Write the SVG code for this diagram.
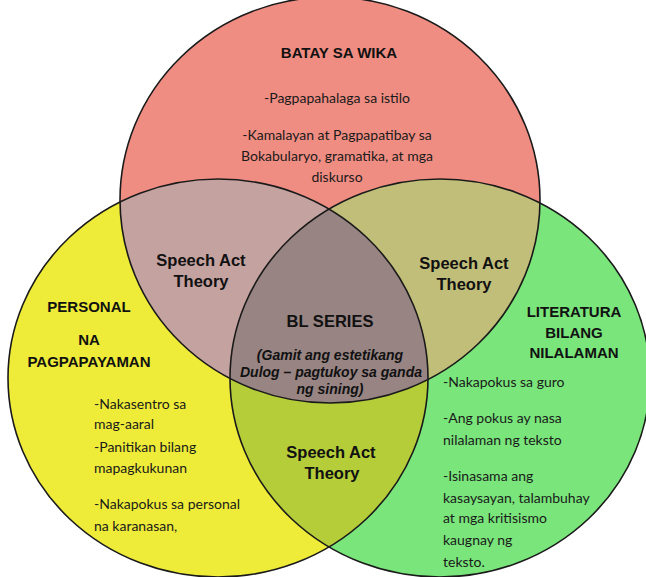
<svg xmlns="http://www.w3.org/2000/svg" width="646" height="577" viewBox="0 0 646 577">
<style>
.head{font-family:"Liberation Sans",Arial,sans-serif;font-weight:bold;font-size:15px;fill:#111;text-anchor:middle}
.sat{font-family:"Liberation Sans",Arial,sans-serif;font-weight:bold;font-size:16.5px;fill:#111;text-anchor:middle}
.body{font-family:Lato,"Liberation Sans",sans-serif;font-size:14px;fill:#1a1a1a}
.mid{text-anchor:middle}
.it{font-family:"Liberation Sans",Arial,sans-serif;font-weight:bold;font-style:italic;font-size:14px;fill:#111;text-anchor:middle}
.edge{fill:none;stroke:#1a1a1a;stroke-width:1.6}
</style>
<defs>
<clipPath id="cTop"><ellipse cx="330" cy="200" rx="210" ry="203"/></clipPath>
<clipPath id="cLeft"><ellipse cx="218" cy="378" rx="210" ry="199"/></clipPath>
<clipPath id="cRight"><ellipse cx="440" cy="378" rx="210" ry="199"/></clipPath>
</defs>
<rect width="646" height="577" fill="#ffffff"/>
<g id="batay-sa-wika">
<ellipse cx="330" cy="200" rx="210" ry="203" fill="#F08D82"/>
</g>
<g id="personal-na-pagpapayaman">
<ellipse cx="218" cy="378" rx="210" ry="199" fill="#EEEC39"/>
</g>
<g id="literatura-bilang-nilalaman">
<ellipse cx="440" cy="378" rx="210" ry="199" fill="#79E57B"/>
</g>
<g id="speech-act-top-left">
<ellipse cx="218" cy="378" rx="210" ry="199" fill="#C4A2A0" clip-path="url(#cTop)"/>
</g>
<g id="speech-act-top-right">
<ellipse cx="440" cy="378" rx="210" ry="199" fill="#C1BE79" clip-path="url(#cTop)"/>
</g>
<g id="speech-act-bottom">
<ellipse cx="440" cy="378" rx="210" ry="199" fill="#B4CD39" clip-path="url(#cLeft)"/>
</g>
<g id="bl-series">
<g clip-path="url(#cTop)"><ellipse cx="440" cy="378" rx="210" ry="199" fill="#978483" clip-path="url(#cLeft)"/></g>
</g>
<g id="outlines">
<ellipse class="edge" cx="330" cy="200" rx="210" ry="203"/>
<ellipse class="edge" cx="218" cy="378" rx="210" ry="199"/>
<ellipse class="edge" cx="440" cy="378" rx="210" ry="199"/>
</g>
<g id="texts-top">
<text class="head" x="339" y="58">BATAY SA WIKA</text>
<text class="body mid" x="337" y="103">-Pagpapahalaga sa istilo</text>
<text class="body mid" x="337" y="140">-Kamalayan at Pagpapatibay sa</text>
<text class="body mid" x="337" y="161">Bokabularyo, gramatika, at mga</text>
<text class="body mid" x="337" y="182">diskurso</text>
</g>
<g id="texts-left">
<text class="head" x="89" y="312">PERSONAL</text>
<text class="head" x="89" y="345">NA</text>
<text class="head" x="89" y="367">PAGPAPAYAMAN</text>
<text class="body" x="94" y="409">-Nakasentro sa</text>
<text class="body" x="94" y="429">mag-aaral</text>
<text class="body" x="94" y="452">-Panitikan bilang</text>
<text class="body" x="94" y="473">mapagkukunan</text>
<text class="body" x="94" y="509">-Nakapokus sa personal</text>
<text class="body" x="94" y="531">na karanasan,</text>
</g>
<g id="texts-right">
<text class="head" x="574" y="317">LITERATURA</text>
<text class="head" x="574" y="338">BILANG</text>
<text class="head" x="574" y="358">NILALAMAN</text>
<text class="body" x="443" y="387">-Nakapokus sa guro</text>
<text class="body" x="443" y="423">-Ang pokus ay nasa</text>
<text class="body" x="443" y="445">nilalaman ng teksto</text>
<text class="body" x="443" y="481">-Isinasama ang</text>
<text class="body" x="443" y="503">kasaysayan, talambuhay</text>
<text class="body" x="443" y="523">at mga kritisismo</text>
<text class="body" x="443" y="545">kaugnay ng</text>
<text class="body" x="443" y="567">teksto.</text>
</g>
<g id="texts-overlaps">
<text class="sat" x="201" y="266">Speech Act</text>
<text class="sat" x="201" y="287">Theory</text>
<text class="sat" x="464" y="269">Speech Act</text>
<text class="sat" x="464" y="290">Theory</text>
<text class="sat" x="331" y="458">Speech Act</text>
<text class="sat" x="332" y="479">Theory</text>
<text class="head" x="330" y="327" style="font-size:16.5px">BL SERIES</text>
<text class="it" x="330" y="360">(Gamit ang estetikang</text>
<text class="it" x="331" y="377">Dulog – pagtukoy sa ganda</text>
<text class="it" x="330" y="394">ng sining)</text>
</g>
</svg>
